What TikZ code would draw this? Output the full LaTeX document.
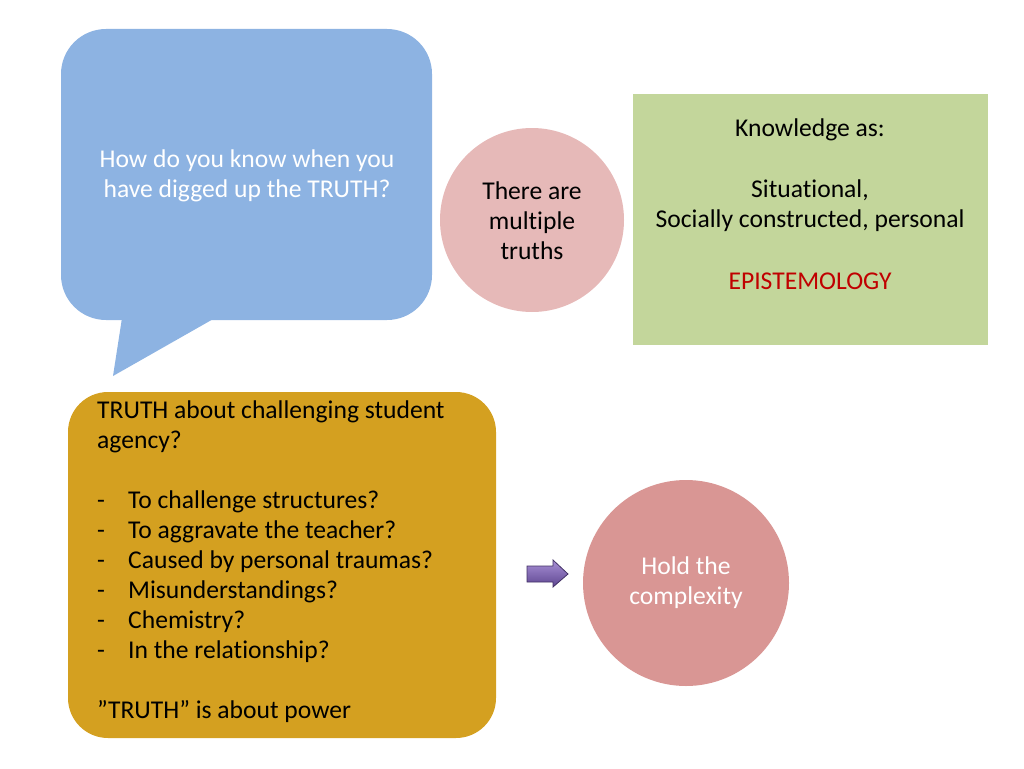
\documentclass[tikz,border=0pt]{standalone}
\usepackage{fontspec}
\setmainfont{Carlito}[Ligatures={NoCommon,NoRequired,NoContextual}]
\definecolor{bubblue}{HTML}{8DB3E2}
\definecolor{pinkA}{HTML}{E6B9B8}
\definecolor{greenA}{HTML}{C3D69B}
\definecolor{goldA}{HTML}{D4A020}
\definecolor{pinkB}{HTML}{D99694}
\definecolor{epired}{HTML}{C00000}
\definecolor{purpT}{HTML}{A890D6}
\definecolor{purpB}{HTML}{5E4690}
\tikzset{
  x=1pt,y=-1pt,
  txt/.style={font=\fontsize{25.6}{30}\selectfont, inner sep=0pt},
}
\newcommand{\itm}[1]{\makebox[31pt][l]{-}#1}
\begin{document}
\begin{tikzpicture}
\useasboundingbox (0,0) rectangle (1024,768);
% speech bubble
\fill[bubblue] (122,318) -- (113,376) -- (215,318) -- cycle;
\fill[bubblue, rounded corners=45] (61,29) rectangle (432,320);
\node[txt, white, align=center] (q) at (247,176) {How do you know when you\\have digged up the TRUTH?};
% pink circle
\fill[pinkA] (532,220) circle (92);
\node[txt, align=center] (multi) at (532,221) {There are\\multiple\\truths};
% green rect
\fill[greenA] (633,94) rectangle (988,345);
\node[txt, align=center, anchor=north] (know) at (810,119) {Knowledge as:\\[31pt]Situational,\\Socially constructed, personal\\[32pt]\textcolor{epired}{EPISTEMOLOGY}};
% gold box
\fill[goldA, rounded corners=40] (68,392) rectangle (496,738);
\node[txt, align=left, anchor=north west] (gold) at (97,401) {TRUTH about challenging student\\agency?\\[30pt]
\itm{To challenge structures?}\\
\itm{To aggravate the teacher?}\\
\itm{Caused by personal traumas?}\\
\itm{Misunderstandings?}\\
\itm{Chemistry?}\\
\itm{In the relationship?}\\[30pt]
”TRUTH” is about power};
% arrow
\draw[draw=purpB!70!black, line width=0.8pt, top color=purpT, bottom color=purpB, line join=miter]
  (527,566) -- (553,566) -- (553,560) -- (568,574) -- (553,587) -- (553,582) -- (527,582) -- cycle;
\coordinate (arr) at (547,574);
% pink circle 2
\fill[pinkB] (686,583) circle (103);
\node[txt, white, align=center] (hold) at (686,583) {Hold the\\complexity};
\end{tikzpicture}
\end{document}
